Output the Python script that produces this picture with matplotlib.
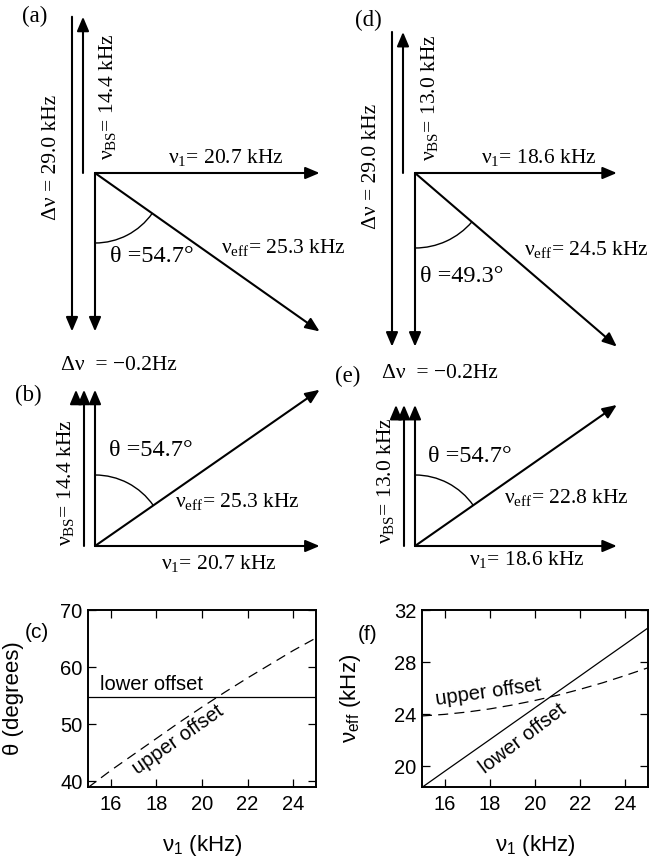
import numpy as np
import matplotlib
matplotlib.use('Agg')
import matplotlib.pyplot as plt
from matplotlib.patches import FancyArrowPatch, Arc

plt.rcParams['font.family'] = ['Liberation Sans', 'DejaVu Sans']
plt.rcParams['mathtext.fontset'] = 'custom'
plt.rcParams['mathtext.rm'] = 'Liberation Serif'
plt.rcParams['mathtext.it'] = 'Liberation Serif:italic'
plt.rcParams['mathtext.sf'] = 'Liberation Sans'

# vector diagram values (kHz), left column then right column
nu1 = [20.7, 18.6]
nu_bs = [14.4, 13.0]
dnu_upper = [29.0, 29.0]
dnu_lower = [-0.0002, -0.0002]
nu_eff_upper = [25.3, 24.5]
nu_eff_lower = [25.3, 22.8]
theta_upper = [54.7, 49.3]
theta_lower = [54.7, 54.7]

# sweep over nu1 (kHz) (c) and (f)
nu1_sweep = [15, 16, 17, 18, 19, 20, 21, 22, 23, 24, 25]
theta_low = [54.7, 54.7, 54.7, 54.7, 54.7, 54.7, 54.7, 54.7, 54.7, 54.7, 54.7]
theta_up = [38.9, 41.9, 44.7, 47.5, 50.3, 53.0, 55.6, 58.1, 60.5, 62.9, 65.1]
eff_low = [18.37, 19.60, 20.82, 22.04, 23.27, 24.49, 25.72, 26.94, 28.17, 29.39, 30.62]
eff_up = [23.86, 23.98, 24.16, 24.40, 24.70, 25.05, 25.45, 25.91, 26.41, 26.97, 27.56]

W, H = 650, 859
fig = plt.figure(figsize=(W / 100, H / 100), dpi=100)

# overlay in pixel coordinates for the vector diagrams
ax0 = fig.add_axes([0, 0, 1, 1])
ax0.set_xlim(0, W)
ax0.set_ylim(H, 0)
ax0.axis('off')

s = 10.85  # px per kHz
serif = ['Liberation Serif', 'DejaVu Serif']
fs = 15.5


def arrow(x0, y0, x1, y1):
    a = FancyArrowPatch((x0, y0), (x1, y1),
                        arrowstyle='-|>,head_length=0.85,head_width=0.36',
                        mutation_scale=10, lw=1.5, color='black',
                        shrinkA=0, shrinkB=0)
    ax0.add_patch(a)


def label(x, y, t, rot=0, ha='center', size=fs):
    ax0.text(x, y, t, ha=ha, va='center', rotation=rot, fontsize=size,
             family=serif)


# upper-offset diagrams (a), (d)
for i, (ox, oy, r) in enumerate([(95, 173, 70), (415, 173, 75)]):
    dz = dnu_upper[i] - nu_bs[i]
    top = oy - s * nu_bs[i]
    arrow(ox, oy, ox + s * nu1[i], oy)
    arrow(ox - 12, oy, ox - 12, top)
    arrow(ox - 23, top, ox - 23, top + s * dnu_upper[i])
    arrow(ox, oy, ox, oy + s * dz)
    arrow(ox, oy, ox + s * nu1[i], oy + s * dz)
    ang = np.degrees(np.arctan2(dz, nu1[i]))
    ax0.add_patch(Arc((ox, oy), 2 * r, 2 * r, theta1=ang, theta2=90, lw=1.0, color='black'))

label(35, 16, '(a)', size=16.5)
label(52, 157, 'Δν = %.1f kHz' % dnu_upper[0], rot=90)
label(108, 97, r'$\mathrm{ν_{BS}}$= %.1f kHz' % nu_bs[0], rot=90)
label(226, 157, r'$\mathrm{ν_1}$= %.1f kHz' % nu1[0])
label(221, 248, r'$\mathrm{ν_{eff}}$= %.1f kHz' % nu_eff_upper[0], ha='left')
label(152, 256, 'θ =%.1f°' % theta_upper[0], size=fs + 2)

label(368, 20, '(d)', size=16.5)
label(371, 166, 'Δν = %.1f kHz' % dnu_upper[1], rot=90)
label(429, 98, r'$\mathrm{ν_{BS}}$= %.1f kHz' % nu_bs[1], rot=90)
label(539, 157, r'$\mathrm{ν_1}$= %.1f kHz' % nu1[1])
label(524, 250, r'$\mathrm{ν_{eff}}$= %.1f kHz' % nu_eff_upper[1], ha='left')
label(462, 277, 'θ =%.1f°' % theta_upper[1], size=fs + 2)

# lower-offset diagrams (b), (e)
for i, (ox, oy) in enumerate([(95, 546), (415, 546)]):
    dz = nu_bs[i] - dnu_lower[i]
    top = oy - s * nu_bs[i]
    arrow(ox, oy, ox + s * nu1[i], oy)
    arrow(ox - 11, oy, ox - 11, top)
    arrow(ox - 19, top + 11 + s * dnu_lower[i], ox - 19, top)
    arrow(ox, oy, ox, oy - s * dz)
    arrow(ox, oy, ox + s * nu1[i], oy - s * dz)
    ang = np.degrees(np.arctan2(-dz, nu1[i]))
    ax0.add_patch(Arc((ox, oy), 142, 142, theta1=-90, theta2=ang, lw=1.0, color='black'))

label(119, 365, 'Δν  = −%.1fHz' % (-dnu_lower[0] * 1000))
label(28, 395, '(b)', size=16.5)
label(66, 483, r'$\mathrm{ν_{BS}}$= %.1f kHz' % nu_bs[0], rot=90)
label(151, 451, 'θ =%.1f°' % theta_lower[0], size=fs + 2)
label(175, 502, r'$\mathrm{ν_{eff}}$= %.1f kHz' % nu_eff_lower[0], ha='left')
label(219, 564, r'$\mathrm{ν_1}$= %.1f kHz' % nu1[0])

label(348, 376, '(e)', size=16.5)
label(440, 373, 'Δν  = −%.1fHz' % (-dnu_lower[1] * 1000))
label(386, 481, r'$\mathrm{ν_{BS}}$= %.1f kHz' % nu_bs[1], rot=90)
label(470, 457, 'θ =%.1f°' % theta_lower[1], size=fs + 2)
label(504, 497, r'$\mathrm{ν_{eff}}$= %.1f kHz' % nu_eff_lower[1], ha='left')
label(527, 560, r'$\mathrm{ν_1}$= %.1f kHz' % nu1[1])


def style(ax):
    ax.set_xlim(15, 25)
    ax.set_xticks([16, 18, 20, 22, 24])
    ax.tick_params(direction='in', top=True, right=True, length=6, width=0.9,
                   labelsize=14.5)
    ax.tick_params(axis='x', pad=6)
    ax.tick_params(axis='y', pad=4)
    for sp in ax.spines.values():
        sp.set_linewidth(1.4)


# (c)
axc = fig.add_axes([88 / W, (H - 787) / H, 228 / W, 177 / H])
axc.plot(nu1_sweep, theta_low, color='black', lw=0.9)
axc.plot(nu1_sweep, theta_up, color='black', lw=0.9, ls=(0, (8, 5)))
style(axc)
axc.set_ylim(39, 70)
axc.set_yticks([40, 50, 60, 70])
axc.set_ylabel('θ (degrees)', fontsize=16)
axc.set_xlabel(r'$\mathsf{ν_1}$ (kHz)', fontsize=16)
axc.yaxis.set_label_coords(-0.28, 0.5)
axc.xaxis.set_label_coords(0.5, -0.26)
axc.text(17.8, 57.0, 'lower offset', ha='center', va='center', fontsize=14.5)
axc.text(18.95, 47.2, 'upper offset', ha='center', va='center', fontsize=14.5, rotation=35)
ax0.text(37, 632, '(c)', ha='center', va='center', fontsize=15)

# (f)
axf = fig.add_axes([422 / W, (H - 787) / H, 226 / W, 177 / H])
axf.plot(nu1_sweep, eff_low, color='black', lw=0.9)
axf.plot(nu1_sweep, eff_up, color='black', lw=0.9, ls=(0, (8, 5)))
style(axf)
axf.set_ylim(18.4, 32)
axf.set_yticks([20, 24, 28, 32])
axf.set_ylabel(r'$\mathsf{ν_{eff}}$ (kHz)', fontsize=16)
axf.set_xlabel(r'$\mathsf{ν_1}$ (kHz)', fontsize=16)
axf.yaxis.set_label_coords(-0.26, 0.5)
axf.xaxis.set_label_coords(0.5, -0.26)
axf.text(17.93, 25.7, 'upper offset', ha='center', va='center', fontsize=14.5, rotation=8)
axf.text(19.48, 22.1, 'lower offset', ha='center', va='center', fontsize=14.5, rotation=37)
ax0.text(368, 635, '(f)', ha='center', va='center', fontsize=15)

fig.savefig('out.png', dpi=100)
